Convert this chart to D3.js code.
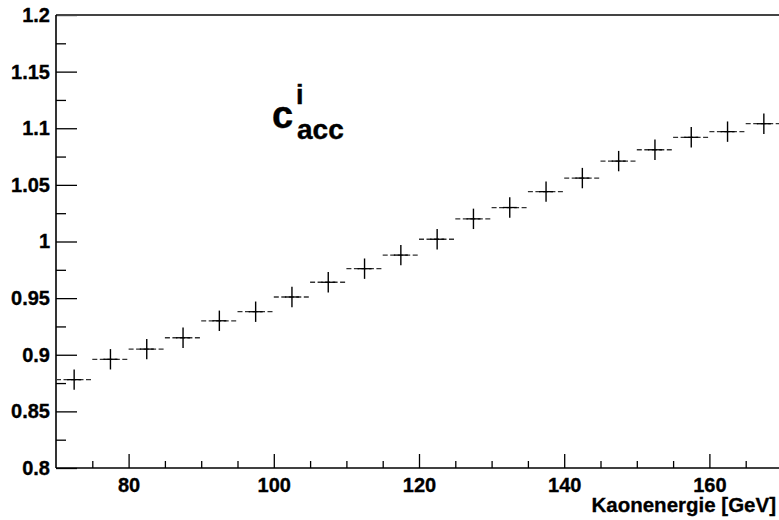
<!DOCTYPE html>
<html>
<head>
<meta charset="utf-8">
<script src="https://cdn.jsdelivr.net/npm/d3@7"></script>
<style>
  body { margin: 0; background: #fff; }
  svg { display: block; }
  .axis text { font-family: "Liberation Sans", Arial, sans-serif; font-weight: bold; font-size: 20px; fill: #000; stroke: #000; stroke-width: 0.35; }
  .axis line { stroke: #000; stroke-width: 1.3; }
  .axis path { display: none; }
  .hbar { stroke: #333; stroke-width: 1.3; stroke-dasharray: 5,2.5; }
  .vbar { stroke: #000; stroke-width: 1.4; }
  .lbl { font-family: "Liberation Sans", Arial, sans-serif; font-weight: bold; fill: #000; stroke: #000; stroke-width: 0.4; }
</style>
</head>
<body>
<div id="chart"></div>
<script>
// bin centres in GeV (bin width 5)
var binCenters = [72.5, 77.5, 82.5, 87.5, 92.5, 97.5, 102.5, 107.5, 112.5, 117.5,
                  122.5, 127.5, 132.5, 137.5, 142.5, 147.5, 152.5, 157.5, 162.5, 167.5];
var binHalfWidth = 2.5;
var cAcc = [0.878, 0.896, 0.905, 0.915, 0.930, 0.938, 0.951, 0.964, 0.976, 0.988,
            1.002, 1.020, 1.030, 1.044, 1.056, 1.071, 1.081, 1.092, 1.097, 1.104];
var cAccErr = [0.009, 0.009, 0.009, 0.009, 0.009, 0.009, 0.009, 0.009, 0.009, 0.009,
               0.009, 0.009, 0.009, 0.009, 0.009, 0.009, 0.009, 0.009, 0.009, 0.009];
var yTicks = [0.8, 0.85, 0.9, 0.95, 1, 1.05, 1.1, 1.15, 1.2];
var yMinorTicks = [0.825, 0.875, 0.925, 0.975, 1.025, 1.075, 1.125, 1.175];
var xTicks = [80, 100, 120, 140, 160];
var xMinorTicks = [75, 85, 90, 95, 105, 110, 115, 125, 130, 135, 145, 150, 155, 165];

var W = 779, H = 520;
var margin = { top: 15, right: -3, bottom: 52, left: 56 };
var width = W - margin.left - margin.right,
    height = H - margin.top - margin.bottom;

var svg = d3.select("#chart").append("svg")
    .attr("width", W)
    .attr("height", H);

var g = svg.append("g")
    .attr("transform", "translate(" + margin.left + "," + margin.top + ")");

var x = d3.scaleLinear().domain([70, 170]).range([0, width]);
var y = d3.scaleLinear().domain([0.8, 1.2]).range([height, 0]);

// minor ticks first
g.append("g").attr("class", "axis")
    .call(d3.axisLeft(y).tickValues(yMinorTicks).tickSizeInner(-10).tickSizeOuter(0).tickFormat(""));
g.append("g").attr("class", "axis")
    .attr("transform", "translate(0," + height + ")")
    .call(d3.axisBottom(x).tickValues(xMinorTicks).tickSizeInner(-7).tickSizeOuter(0).tickFormat(""));

// major ticks + labels
g.append("g").attr("class", "axis")
    .call(d3.axisLeft(y).tickValues(yTicks).tickSizeInner(-21).tickSizeOuter(0).tickPadding(6)
      .tickFormat(d3.format("")));
g.append("g").attr("class", "axis")
    .attr("transform", "translate(0," + height + ")")
    .call(d3.axisBottom(x).tickValues(xTicks).tickSizeInner(-14).tickSizeOuter(0).tickPadding(10));

// frame
g.append("line").attr("x1", 0).attr("x2", width).attr("y1", 0).attr("y2", 0)
    .attr("stroke", "#444").attr("stroke-width", 1.8);
g.append("line").attr("x1", 0).attr("x2", 0).attr("y1", 0).attr("y2", height)
    .attr("stroke", "#000").attr("stroke-width", 1.6);
g.append("line").attr("x1", 0).attr("x2", width).attr("y1", height).attr("y2", height)
    .attr("stroke", "#000").attr("stroke-width", 1.6);
g.append("line").attr("x1", width).attr("x2", width).attr("y1", 0).attr("y2", height)
    .attr("stroke", "#000").attr("stroke-width", 1.6);

// error-bar crosses
var pts = binCenters.map(function(c, i) { return { x: c, y: cAcc[i], e: cAccErr[i] }; });

var plot = g.append("g");
plot.selectAll(".hbar").data(pts).enter().append("line")
    .attr("class", "hbar")
    .attr("x1", function(d) { return Math.max(x(d.x - binHalfWidth), 0); })
    .attr("x2", function(d) { return x(d.x + binHalfWidth); })
    .attr("y1", function(d) { return y(d.y); })
    .attr("y2", function(d) { return y(d.y); });
plot.selectAll(".hcore").data(pts).enter().append("line")
    .attr("stroke", "#000").attr("stroke-width", 1.3)
    .attr("x1", function(d) { return x(d.x) - 7; })
    .attr("x2", function(d) { return x(d.x) + 7; })
    .attr("y1", function(d) { return y(d.y); })
    .attr("y2", function(d) { return y(d.y); });
plot.selectAll(".vbar").data(pts).enter().append("line")
    .attr("class", "vbar")
    .attr("x1", function(d) { return x(d.x); })
    .attr("x2", function(d) { return x(d.x); })
    .attr("y1", function(d) { return y(d.y - d.e); })
    .attr("y2", function(d) { return y(d.y + d.e); });

// axis title
svg.append("text")
    .attr("class", "lbl")
    .attr("x", 776).attr("y", 512)
    .attr("text-anchor", "end")
    .style("font-size", "20.5px")
    .style("stroke-width", "0.3")
    .text("Kaonenergie [GeV]");

// label c^i_acc
var lab = svg.append("text")
    .attr("class", "lbl")
    .attr("x", 272).attr("y", 128);
lab.append("tspan").style("font-size", "38px").text("c");
lab.append("tspan").attr("x", 296).attr("y", 104).style("font-size", "27px").text("i");
lab.append("tspan").attr("x", 297).attr("y", 139).style("font-size", "28px").text("acc");
</script>
</body>
</html>
